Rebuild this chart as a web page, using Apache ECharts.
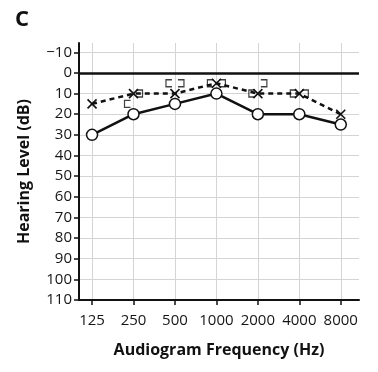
<!DOCTYPE html>
<html><head><meta charset="utf-8">
<script src="https://cdn.jsdelivr.net/npm/echarts@6/dist/echarts.min.js"></script>
<style>html,body{margin:0;padding:0;background:#fff}#c{width:378px;height:372px}</style>
</head><body><div id="c"></div>
<script>
// categories (audiogram frequencies)
var frequencies = ['125','250','500','1000','2000','4000','8000'];
// air conduction, solid line with open circles (dB HL)
var airSolid = [30, 20, 15, 10, 20, 20, 25];
// air conduction, dashed line with crosses (dB HL)
var airDashed = [15, 10, 10, 5, 10, 10, 20];
// masked bone conduction "[" (placed left of the frequency) [freqIndex, dB]
var boneLeftBracket = [[1, 15], [2, 5], [3, 5], [4, 10], [5, 10]];
// masked bone conduction "]" (placed right of the frequency) [freqIndex, dB]
var boneRightBracket = [[1, 10], [2, 5], [3, 5], [4, 5], [5, 10]];
// y tick labels
var yTicks = [-10, 0, 10, 20, 30, 40, 50, 60, 70, 80, 90, 100, 110];

var xIdx = frequencies.map(function (f, i) { return i; });
var FONT = '"Open Sans", "Noto Sans", sans-serif';

var chart = echarts.init(document.getElementById('c'), null, {renderer: 'canvas'});
chart.setOption({
  animation: false,
  backgroundColor: '#fff',
  title: {
    text: 'C', left: 10, top: 4,
    textStyle: {fontFamily: FONT, fontWeight: 'bold', fontSize: 22, color: '#111'}
  },
  grid: {left: 79, right: 19, top: 43, bottom: 72, containLabel: false},
  xAxis: {
    type: 'value', min: -0.315, max: 6.44,
    name: 'Audiogram Frequency (Hz)', nameLocation: 'middle', nameGap: 42,
    nameTextStyle: {fontFamily: FONT, fontWeight: 'bold', fontSize: 16, color: '#111'},
    axisLine: {show: true, onZero: false, lineStyle: {color: '#111', width: 2}},
    axisTick: {show: true, length: 5, lineStyle: {color: '#111', width: 1.5}, customValues: xIdx},
    axisLabel: {
      customValues: xIdx, margin: 13,
      fontFamily: FONT, fontSize: 15, color: '#151515',
      formatter: function (v) { return frequencies[Math.round(v)]; }
    },
    splitLine: {show: true, lineStyle: {color: '#d4d4d4', width: 1}}
  },
  yAxis: {
    type: 'value', inverse: true, min: -14.5, max: 110,
    name: 'Hearing Level (dB)', nameLocation: 'middle', nameGap: 47,
    nameTextStyle: {fontFamily: FONT, fontWeight: 'bold', fontSize: 16, color: '#111'},
    axisLine: {show: true, onZero: false, lineStyle: {color: '#111', width: 2}},
    axisTick: {show: true, length: 5, lineStyle: {color: '#111', width: 1.5}, customValues: yTicks},
    axisLabel: {
      customValues: yTicks, margin: 7,
      fontFamily: FONT, fontSize: 15, color: '#151515',
      formatter: function (v) { return v < 0 ? '\u2212' + Math.abs(v) : String(v); }
    },
    splitLine: {show: true, lineStyle: {color: '#d4d4d4', width: 1}}
  },
  series: [
    {
      type: 'line', name: 'zero', data: [], silent: true,
      markLine: {
        silent: true, symbol: 'none', label: {show: false},
        lineStyle: {color: '#111', width: 2.5, type: 'solid'},
        data: [{yAxis: 0}]
      }
    },
    {
      type: 'line', name: 'dashed',
      data: airDashed.map(function (v, i) { return [i, v]; }),
      lineStyle: {color: '#111', width: 2.5, type: [5, 4]},
      symbol: 'path://M0,0L10,10M10,0L0,10', symbolSize: 9,
      itemStyle: {color: 'rgba(0,0,0,0)', borderColor: '#111', borderWidth: 1.6},
      z: 3
    },
    {
      type: 'scatter', name: 'boneL',
      data: boneLeftBracket,
      symbol: 'path://M6,0L0,0L0,7L6,7', symbolSize: [6, 7], symbolOffset: [-6, 0],
      itemStyle: {color: 'rgba(0,0,0,0)', borderColor: '#111', borderWidth: 1.3},
      z: 4
    },
    {
      type: 'scatter', name: 'boneR',
      data: boneRightBracket,
      symbol: 'path://M0,0L6,0L6,7L0,7', symbolSize: [6, 7], symbolOffset: [6, 0],
      itemStyle: {color: 'rgba(0,0,0,0)', borderColor: '#111', borderWidth: 1.3},
      z: 4
    },
    {
      type: 'line', name: 'solid',
      data: airSolid.map(function (v, i) { return [i, v]; }),
      lineStyle: {color: '#111', width: 2.5},
      symbol: 'circle', symbolSize: 11,
      itemStyle: {color: '#fff', borderColor: '#111', borderWidth: 1.5},
      z: 5
    }
  ]
});
</script>
</body></html>
